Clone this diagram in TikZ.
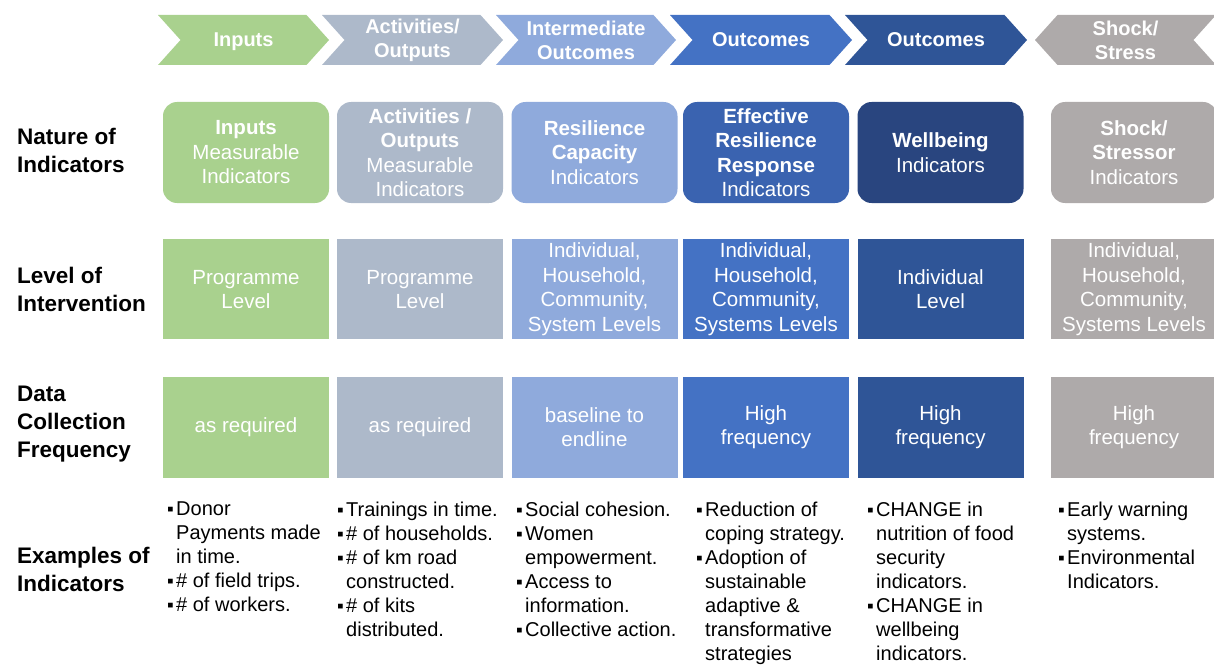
\documentclass[tikz,border=0pt]{standalone}
\usepackage{fontspec}
\setmainfont{Liberation Sans}
\usetikzlibrary{shapes.symbols,positioning}

\definecolor{cGreen}{HTML}{A9D18E}
\definecolor{cSlate}{HTML}{ADB9CA}
\definecolor{cLight}{HTML}{8FAADC}
\definecolor{cBlue}{HTML}{4472C4}
\definecolor{cBlueDk}{HTML}{3A63B0}
\definecolor{cNavy}{HTML}{2F5597}
\definecolor{cNavyDk}{HTML}{29457F}
\definecolor{cGrey}{HTML}{AEAAAA}

\newcommand{\chevfont}{\fontsize{20}{24}\selectfont\bfseries}
\newcommand{\boxfont}{\fontsize{20.5}{24.5}\selectfont}
\newcommand{\labfont}{\fontsize{22.5}{28}\selectfont\bfseries}
\newcommand{\exfont}{\fontsize{20}{24}\selectfont}
\newcommand{\bl}{\makebox[9pt][l]{\fontsize{19}{19}\selectfont\raisebox{0.5pt}{▪}}}
\newcommand{\ind}{\hspace*{9pt}}

\begin{document}
\begin{tikzpicture}[x=1pt, y=-1pt,
  chev/.style={signal, signal to=east, signal from=west, signal pointer angle=96,
               minimum height=50pt, inner sep=0pt, text=white,
               font=\chevfont, align=center},
  natbox/.style={rectangle, rounded corners=14pt, minimum width=166pt,
                 minimum height=101pt, inner sep=0pt, text=white,
                 font=\boxfont, align=center},
  lvlbox/.style={rectangle, minimum width=166pt, minimum height=100pt,
                 inner sep=0pt, text=white, font=\boxfont, align=center},
  rowlabel/.style={anchor=west, font=\labfont, align=left, inner sep=0pt},
  example/.style={anchor=north west, font=\exfont, align=left, inner sep=0pt},
  node distance=36pt
]
  \useasboundingbox (0,0) rectangle (1214,666);

  % results chain
  \node[chev, fill=cGreen, minimum width=171pt, text depth=0pt] (chIn) at (243.5,40) {Inputs};
  \node[chev, fill=cSlate, minimum width=181pt] (chAct) at (412.5,40) {Activities/\\Outputs};
  \node[chev, fill=cLight, minimum width=180pt] (chInt) at (586,40) {Intermediate\\Outcomes};
  \node[chev, fill=cBlue, minimum width=182pt, text depth=0pt] (chOut) at (761,40) {Outcomes};
  \node[chev, fill=cNavy, minimum width=182pt, text depth=0pt] (chWell) at (936,40) {Outcomes};
  \node[chev, fill=cGrey, minimum width=181pt, signal to=west, signal from=east]
    (chShock) at (1125.5,40) {Shock/\\Stress};

  % row labels
  \node[rowlabel] (labNat) at (17,150) {Nature of\\Indicators};
  \node[rowlabel] (labLvl) at (17,289) {Level of\\Intervention};
  \node[rowlabel] (labFrq) at (17,424) {Data\\Collection\\Frequency};
  \node[rowlabel] (labEx) at (17,569) {Examples of\\Indicators};

  % nature of indicators
  \node[natbox, fill=cGreen] (natIn) at (246,152.5)
    {\textbf{Inputs}\\Measurable\\Indicators};
  \node[natbox, fill=cSlate] (natAct) at (420,152.5)
    {\textbf{Activities /}\\\textbf{Outputs}\\Measurable\\Indicators};
  \node[natbox, fill=cLight] (natInt) at (594.5,152.5)
    {\textbf{Resilience}\\\textbf{Capacity}\\Indicators};
  \node[natbox, fill=cBlueDk] (natOut) at (766,152.5)
    {\textbf{Effective}\\\textbf{Resilience}\\\textbf{Response}\\Indicators};
  \node[natbox, fill=cNavyDk] (natWell) at (940.5,152.5)
    {\textbf{Wellbeing}\\Indicators};
  \node[natbox, fill=cGrey] (natShock) at (1134,152.5)
    {\textbf{Shock/}\\\textbf{Stressor}\\Indicators};

  % level of intervention
  \node[lvlbox, fill=cGreen, below=of natIn] (lvlIn) {Programme\\Level};
  \node[lvlbox, fill=cSlate, below=of natAct] (lvlAct) {Programme\\Level};
  \node[lvlbox, fill=cLight, below=of natInt] (lvlInt)
    {Individual,\\Household,\\Community,\\System Levels};
  \node[lvlbox, fill=cBlue, below=of natOut] (lvlOut)
    {Individual,\\Household,\\Community,\\Systems Levels};
  \node[lvlbox, fill=cNavy, below=of natWell] (lvlWell) {Individual\\Level};
  \node[lvlbox, fill=cGrey, below=of natShock] (lvlShock)
    {Individual,\\Household,\\Community,\\Systems Levels};

  % data collection frequency
  \node[lvlbox, fill=cGreen, minimum height=101pt, below=37pt of lvlIn] (frqIn) {as required};
  \node[lvlbox, fill=cSlate, minimum height=101pt, below=37pt of lvlAct] (frqAct) {as required};
  \node[lvlbox, fill=cLight, minimum height=101pt, below=37pt of lvlInt] (frqInt) {baseline to\\endline};
  \node[lvlbox, fill=cBlue, minimum height=101pt, below=37pt of lvlOut] (frqOut) {High\\frequency};
  \node[lvlbox, fill=cNavy, minimum height=101pt, below=37pt of lvlWell] (frqWell) {High\\frequency};
  \node[lvlbox, fill=cGrey, minimum height=101pt, below=37pt of lvlShock] (frqShock) {High\\frequency};

  % examples of indicators
  \node[example] (exIn) at (167,502)
    {\bl Donor\\\ind Payments made\\\ind in time.\\\bl\# of field trips.\\\bl\# of workers.};
  \node[example] (exAct) at (337,502)
    {\bl Trainings in time.\\\bl\# of households.\\\bl\# of km road\\\ind constructed.\\\bl\# of kits\\\ind distributed.};
  \node[example] (exInt) at (516,502)
    {\bl Social cohesion.\\\bl Women\\\ind empowerment.\\\bl Access to\\\ind information.\\\bl Collective action.};
  \node[example] (exOut) at (696,502)
    {\bl Reduction of\\\ind coping strategy.\\\bl Adoption of\\\ind sustainable\\\ind adaptive \&\\\ind transformative\\\ind strategies};
  \node[example] (exWell) at (867,502)
    {\bl CHANGE in\\\ind nutrition of food\\\ind security\\\ind indicators.\\\bl CHANGE in\\\ind wellbeing\\\ind indicators.};
  \node[example] (exShock) at (1058,502)
    {\bl Early warning\\\ind systems.\\\bl Environmental\\\ind Indicators.};
\end{tikzpicture}
\end{document}
